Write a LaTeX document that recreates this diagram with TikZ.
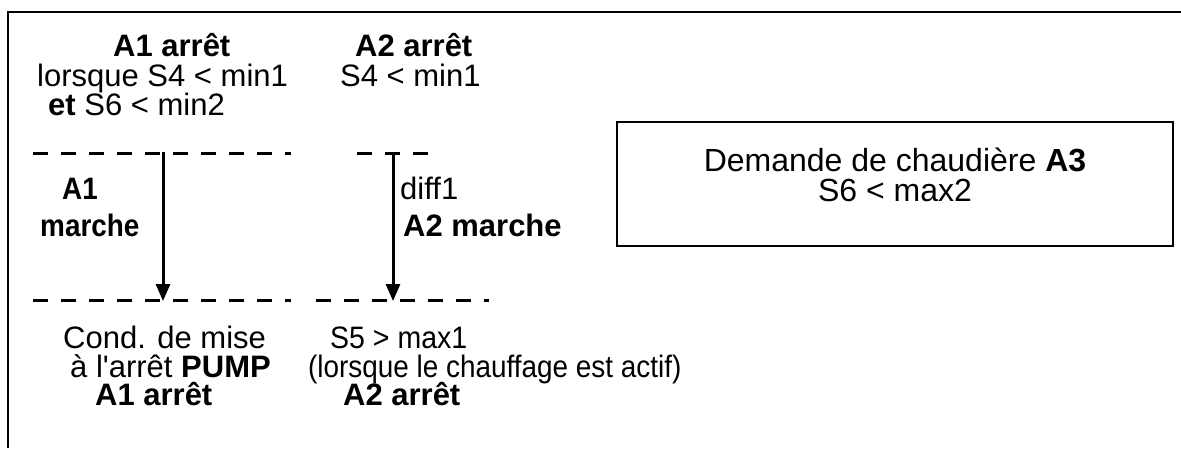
\documentclass[tikz,border=0pt]{standalone}
\usepackage{fontspec}
\usepackage{graphicx}
\setmainfont{Liberation Sans}
\usetikzlibrary{arrows.meta}
\begin{document}
\begin{tikzpicture}[x=1pt,y=-1pt,
  txt/.style={anchor=base west,inner sep=0pt,font=\fontsize{31}{31}\selectfont},
  boxtxt/.style={anchor=center,inner sep=0pt,align=center,font=\fontsize{32}{29.5}\selectfont},
  dline/.style={line width=3pt,dash pattern=on 15pt off 13pt},
  arr/.style={line width=3pt,-{Triangle[width=14pt,length=17pt]}},
  frame/.style={line width=2pt}]
\useasboundingbox (0,0) rectangle (1181,448);
\fill[white] (0,0) rectangle (1181,448);
\draw[frame] (8,448) -- (8,12) -- (1181,12);
% top texts
\node[txt] (a1stop) at (113,56) {\textbf{A1 arrêt}};
\node[txt] (a1c1) at (37,86) {lorsque S4 < min1};
\node[txt] (a1c2) at (48,115) {\textbf{et} S6 < min2};
\node[txt] (a2stop) at (355,56) {\textbf{A2 arrêt}};
\node[txt] (a2c1) at (340,86) {S4 < min1};
% dashed lines
\draw[dline] (33,153) -- (291,153);
\draw[dline] (357,153) -- (430,153);
\draw[dline] (33,300) -- (291,300);
\draw[dline] (316,300) -- (489,300);
% arrows
\coordinate (s1) at (163,152);
\coordinate (e1) at (163,301);
\coordinate (s2) at (393,152);
\coordinate (e2) at (393,301);
\draw[arr] (s1) -- (e1);
\draw[arr] (s2) -- (e2);
% middle labels
\node[txt] (a1m1) at (62,199) {\scalebox{0.9}[1]{\textbf{A1}}};
\node[txt] (a1m2) at (40,236) {\scalebox{0.9}[1]{\textbf{marche}}};
\node[txt] (diff) at (400,199) {diff1};
\node[txt] (a2m) at (403,236) {\textbf{A2 marche}};
% bottom texts
\node[txt] (b1) at (63,348) {Cond. de mise};
\node[txt] (b2) at (70,377) {à l\textquotesingle arrêt \textbf{PUMP}};
\node[txt] (b3) at (95,405) {\textbf{A1 arrêt}};
\node[txt] (c1) at (330,348) {\scalebox{0.92}[1]{S5 > max1}};
\node[txt] (c2) at (308,377) {\scalebox{0.9}[1]{(lorsque le chauffage est actif)}};
\node[txt] (c3) at (343,405) {\textbf{A2 arrêt}};
% right box
\draw[line width=2pt] (617,122) rectangle (1173,246);
\node[boxtxt] (dem) at (895,175) {Demande de chaudière \textbf{A3}\\S6 < max2};
\end{tikzpicture}
\end{document}
